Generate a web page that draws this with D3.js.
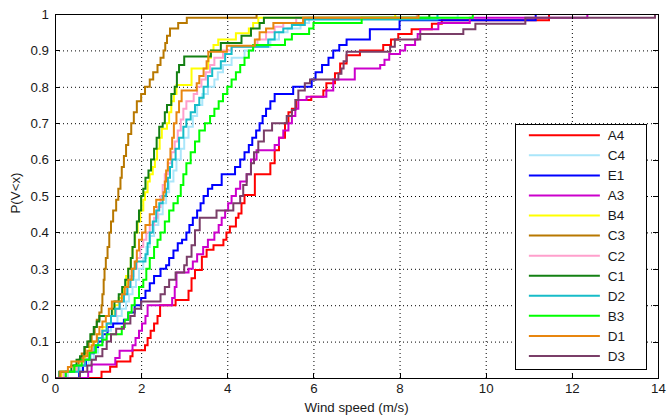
<!doctype html>
<html lang="en">
  <head>
    <meta charset="utf-8">
    <title>Wind speed CDF</title>
    <script src="https://d3js.org/d3.v7.min.js"></script>
    <style>
      body { margin: 0; background: #fff; }
      svg { display: block; font-family: "Liberation Sans", Arial, sans-serif; }
      .grid line { stroke: #000; stroke-dasharray: 1,3; stroke-width: 1; }
      .grid path { display: none; }
      .axis path, .axis line { stroke: #000; shape-rendering: crispEdges; }
      .axis text { font-size: 13.3px; fill: #1a1a1a; }
    </style>
  </head>
  <body>
    <div id="chart"></div>
    <script>
      // tick values
      const xTicks = [0, 2, 4, 6, 8, 10, 12, 14];
      const yTicks = [0, 0.1, 0.2, 0.3, 0.4, 0.5, 0.6, 0.7, 0.8, 0.9, 1];

      // legend order and colours
      const names = ["A4", "C4", "E1", "A3", "B4", "C3", "C2", "C1", "D2", "B3", "D1", "D3"];
      const colors = ["#ff0000", "#aae6fa", "#0000ff", "#cc00cc", "#ffff00", "#b87800",
                      "#ff9fcc", "#138013", "#17bcc8", "#00ff00", "#e8860f", "#7a3e68"];

      const A4 = [[1.08,0.017],[1.28,0.031],[1.43,0.045],[1.75,0.06],[1.8,0.076],[2.09,0.09],[2.15,0.11],[2.22,0.13],[2.3,0.15],[2.38,0.17],[2.44,0.2],[2.8,0.214],[3.1,0.24],[3.17,0.274],[3.25,0.297],[3.41,0.333],[3.52,0.352],[3.68,0.365],[3.91,0.38],[3.98,0.4],[4.06,0.416],[4.2,0.44],[4.26,0.452],[4.33,0.48],[4.4,0.503],[4.64,0.56],[5.0,0.59],[5.1,0.626],[5.2,0.66],[5.34,0.7],[5.42,0.73],[5.5,0.74],[5.6,0.764],[5.95,0.773],[6.23,0.79],[6.3,0.81],[6.5,0.837],[6.62,0.864],[6.77,0.887],[7.08,0.9],[7.62,0.915],[7.8,0.93],[7.97,0.945],[8.28,0.958],[8.75,0.973],[8.98,0.983],[11.47,1]];
      const C4 = [[0.3,0.017],[0.6,0.034],[0.78,0.05],[0.9,0.07],[1.0,0.09],[1.1,0.11],[1.2,0.13],[1.3,0.15],[1.45,0.17],[1.55,0.19],[1.65,0.21],[1.72,0.23],[1.8,0.25],[1.88,0.27],[1.95,0.3],[2.05,0.33],[2.12,0.36],[2.2,0.39],[2.3,0.42],[2.4,0.45],[2.5,0.48],[2.58,0.51],[2.65,0.54],[2.75,0.57],[2.82,0.6],[2.92,0.63],[3.0,0.66],[3.1,0.69],[3.2,0.72],[3.3,0.75],[3.42,0.78],[3.55,0.8],[3.7,0.82],[3.78,0.84],[3.9,0.86],[4.1,0.88],[4.4,0.9],[4.6,0.91],[5.0,0.93],[5.2,0.95],[5.4,0.96],[5.7,0.975],[5.9,0.99],[9.35,1]];
      const E1 = [[0.56,0.017],[0.65,0.034],[0.72,0.05],[0.8,0.068],[0.9,0.085],[1.0,0.1],[1.1,0.12],[1.22,0.14],[1.35,0.15],[1.6,0.16],[1.7,0.18],[1.85,0.2],[2.0,0.22],[2.1,0.24],[2.2,0.26],[2.3,0.28],[2.45,0.3],[2.58,0.31],[2.65,0.33],[2.75,0.35],[2.85,0.37],[2.95,0.38],[3.05,0.4],[3.12,0.42],[3.2,0.44],[3.3,0.46],[3.38,0.48],[3.45,0.5],[3.55,0.52],[3.65,0.53],[3.87,0.56],[4.18,0.58],[4.3,0.6],[4.4,0.62],[4.5,0.64],[4.58,0.66],[4.67,0.68],[4.75,0.7],[4.82,0.72],[4.9,0.74],[5.0,0.76],[5.1,0.78],[5.53,0.8],[5.96,0.82],[6.05,0.84],[6.2,0.86],[6.35,0.88],[6.46,0.9],[6.6,0.915],[6.77,0.93],[7.31,0.958],[8.0,0.983],[11.16,1]];
      const A3 = [[0.77,0.017],[0.85,0.037],[1.4,0.055],[1.5,0.075],[1.8,0.09],[1.87,0.11],[1.95,0.13],[2.02,0.15],[2.1,0.17],[2.15,0.2],[2.72,0.22],[2.78,0.25],[2.82,0.29],[3.1,0.3],[3.2,0.32],[3.3,0.34],[3.44,0.36],[3.55,0.38],[3.7,0.4],[3.8,0.42],[3.87,0.44],[3.95,0.46],[4.02,0.48],[4.1,0.5],[4.2,0.52],[4.3,0.54],[4.45,0.56],[4.55,0.6],[4.68,0.626],[5.1,0.64],[5.2,0.66],[5.3,0.68],[5.42,0.7],[5.5,0.72],[5.58,0.74],[5.65,0.764],[5.84,0.773],[6.3,0.79],[6.46,0.82],[6.96,0.85],[7.55,0.86],[7.65,0.874],[7.76,0.89],[8.01,0.9],[8.13,0.915],[8.36,0.93],[8.42,0.945],[8.48,0.958],[8.9,0.975],[9.63,0.99],[12.36,1]];
      const B4 = [[0.15,0.017],[0.5,0.034],[0.62,0.05],[0.7,0.068],[0.8,0.085],[0.88,0.1],[0.98,0.12],[1.1,0.14],[1.2,0.15],[1.3,0.17],[1.38,0.2],[1.48,0.22],[1.58,0.25],[1.65,0.28],[1.7,0.3],[1.76,0.33],[1.8,0.36],[1.86,0.4],[1.92,0.43],[1.98,0.46],[2.05,0.49],[2.09,0.51],[2.15,0.54],[2.2,0.56],[2.27,0.58],[2.32,0.6],[2.37,0.63],[2.43,0.66],[2.48,0.685],[2.6,0.7],[2.65,0.73],[2.7,0.76],[2.76,0.78],[2.82,0.805],[3.17,0.85],[3.56,0.88],[3.62,0.9],[3.68,0.915],[3.79,0.93],[4.2,0.947],[4.5,0.96],[4.6,0.975],[4.72,0.99],[7.9,1]];
      const C3 = [[0.12,0.017],[0.45,0.034],[0.55,0.05],[0.62,0.067],[0.7,0.085],[0.78,0.1],[0.85,0.12],[0.92,0.14],[0.97,0.16],[1.03,0.18],[1.08,0.2],[1.1,0.23],[1.13,0.27],[1.15,0.3],[1.18,0.33],[1.22,0.36],[1.26,0.4],[1.3,0.43],[1.35,0.46],[1.42,0.49],[1.47,0.52],[1.52,0.55],[1.55,0.58],[1.6,0.61],[1.65,0.64],[1.7,0.67],[1.77,0.7],[1.83,0.73],[1.9,0.76],[2.0,0.78],[2.09,0.8],[2.2,0.82],[2.28,0.84],[2.38,0.86],[2.45,0.88],[2.52,0.9],[2.56,0.92],[2.6,0.94],[2.67,0.96],[2.86,0.975],[3.06,0.99],[4.68,1]];
      const C2 = [[0.2,0.017],[0.5,0.034],[0.68,0.05],[0.8,0.07],[0.9,0.09],[1.0,0.11],[1.1,0.13],[1.2,0.15],[1.3,0.17],[1.42,0.19],[1.5,0.21],[1.6,0.23],[1.68,0.25],[1.75,0.28],[1.82,0.3],[1.9,0.33],[1.98,0.36],[2.05,0.38],[2.12,0.4],[2.2,0.42],[2.3,0.44],[2.38,0.47],[2.45,0.5],[2.5,0.53],[2.55,0.56],[2.62,0.59],[2.7,0.62],[2.78,0.65],[2.85,0.68],[2.92,0.71],[2.98,0.74],[3.05,0.76],[3.22,0.78],[3.3,0.8],[3.4,0.82],[3.5,0.84],[3.6,0.86],[3.7,0.88],[3.9,0.9],[4.1,0.91],[4.7,0.93],[4.9,0.95],[5.1,0.965],[5.3,0.975],[5.6,0.99],[8.4,1]];
      const C1 = [[0.1,0.017],[0.38,0.034],[0.5,0.05],[0.58,0.06],[0.68,0.085],[0.75,0.1],[0.82,0.12],[0.9,0.14],[0.97,0.155],[1.03,0.17],[1.32,0.19],[1.38,0.21],[1.48,0.23],[1.56,0.25],[1.63,0.27],[1.7,0.3],[1.76,0.33],[1.8,0.36],[1.85,0.4],[1.9,0.43],[1.95,0.46],[2.0,0.5],[2.05,0.52],[2.1,0.55],[2.17,0.57],[2.23,0.6],[2.3,0.63],[2.36,0.66],[2.42,0.69],[2.5,0.7],[2.55,0.73],[2.6,0.75],[2.7,0.78],[2.78,0.8],[2.83,0.84],[2.88,0.86],[3.0,0.883],[3.62,0.9],[3.85,0.92],[4.33,0.94],[4.55,0.96],[4.75,0.975],[4.85,0.99],[8.69,1]];
      const D2 = [[0.25,0.017],[0.55,0.034],[0.7,0.05],[0.82,0.07],[0.92,0.09],[1.0,0.11],[1.1,0.13],[1.2,0.15],[1.3,0.17],[1.4,0.19],[1.5,0.21],[1.6,0.23],[1.68,0.25],[1.75,0.27],[1.82,0.3],[1.88,0.32],[2.1,0.34],[2.15,0.37],[2.2,0.4],[2.27,0.43],[2.35,0.46],[2.42,0.48],[2.5,0.5],[2.58,0.52],[2.62,0.55],[2.67,0.58],[2.72,0.6],[2.8,0.63],[2.88,0.66],[2.98,0.69],[3.05,0.71],[3.15,0.73],[3.25,0.75],[3.35,0.77],[3.45,0.8],[3.55,0.83],[3.65,0.85],[3.85,0.87],[3.95,0.89],[4.1,0.91],[4.95,0.93],[5.1,0.95],[5.3,0.96],[5.5,0.97],[5.8,0.985],[8.88,1]];
      const B3 = [[0.25,0.017],[0.45,0.034],[0.62,0.05],[0.8,0.07],[0.95,0.09],[1.1,0.105],[1.2,0.12],[1.55,0.14],[1.62,0.16],[1.7,0.18],[1.78,0.2],[1.85,0.22],[1.95,0.25],[2.05,0.27],[2.12,0.3],[2.2,0.33],[2.3,0.36],[2.38,0.38],[2.45,0.4],[2.55,0.43],[2.65,0.46],[2.75,0.48],[2.85,0.5],[2.92,0.53],[2.98,0.56],[3.05,0.59],[3.15,0.62],[3.25,0.65],[3.35,0.68],[3.48,0.7],[3.6,0.72],[3.7,0.74],[3.8,0.76],[3.9,0.78],[4.0,0.8],[4.1,0.82],[4.2,0.84],[4.3,0.86],[4.4,0.88],[4.5,0.9],[4.6,0.915],[5.34,0.93],[5.5,0.945],[5.9,0.96],[6.0,0.975],[7.12,0.99],[9.7,1]];
      const D1 = [[0.12,0.017],[0.3,0.03],[0.38,0.045],[0.66,0.06],[0.75,0.075],[0.85,0.09],[0.9,0.1],[0.97,0.12],[1.03,0.14],[1.1,0.155],[1.18,0.17],[1.25,0.19],[1.32,0.21],[1.55,0.23],[1.62,0.25],[1.7,0.27],[1.78,0.3],[1.85,0.32],[1.9,0.35],[1.95,0.38],[2.02,0.4],[2.1,0.42],[2.2,0.45],[2.3,0.47],[2.35,0.49],[2.52,0.51],[2.55,0.54],[2.58,0.57],[2.62,0.6],[2.68,0.63],[2.72,0.66],[2.76,0.7],[2.82,0.73],[2.88,0.76],[2.94,0.79],[3.29,0.81],[3.35,0.83],[3.45,0.85],[3.52,0.87],[3.56,0.896],[3.99,0.913],[4.64,0.93],[4.75,0.95],[4.9,0.96],[5.07,0.975],[5.76,0.99],[8.44,1]];
      const D3 = [[0.58,0.017],[0.75,0.034],[0.85,0.05],[0.95,0.06],[1.1,0.08],[1.2,0.1],[1.3,0.12],[1.42,0.135],[1.6,0.15],[1.75,0.17],[1.85,0.19],[2.0,0.21],[2.45,0.23],[2.55,0.25],[2.65,0.27],[2.8,0.29],[3.0,0.31],[3.06,0.333],[3.17,0.365],[3.25,0.406],[3.36,0.44],[3.75,0.46],[4.14,0.48],[4.3,0.5],[4.37,0.53],[4.45,0.56],[4.55,0.59],[4.62,0.62],[4.72,0.65],[4.85,0.68],[5.04,0.7],[5.38,0.72],[5.5,0.736],[5.58,0.764],[5.65,0.79],[5.8,0.81],[5.92,0.82],[6.58,0.836],[6.65,0.85],[6.7,0.87],[6.77,0.896],[7.78,0.91],[7.89,0.93],[8.48,0.945],[9.48,0.958],[9.76,0.973],[10.92,0.99],[13.93,1]];

      const series = [A4, C4, E1, A3, B4, C3, C2, C1, D2, B3, D1, D3];

      // plot box inside the 670x417 window
      const margin = {top: 14, right: 12, bottom: 39, left: 55},
          width = 670 - margin.left - margin.right,
          height = 417 - margin.top - margin.bottom;

      const svg = d3.select("#chart")
        .append("svg")
          .attr("width", 670)
          .attr("height", 417)
        .append("g")
          .attr("transform", `translate(${margin.left},${margin.top})`);

      const x = d3.scaleLinear().domain([0, 14]).range([0, width]);
      const y = d3.scaleLinear().domain([0, 1]).range([height, 0]);

      // dotted grid
      svg.append("g")
        .attr("class", "grid")
        .attr("transform", `translate(0, ${height})`)
        .call(d3.axisBottom(x).tickValues(xTicks.slice(1, -1)).tickSize(-height).tickFormat(""));
      svg.append("g")
        .attr("class", "grid")
        .call(d3.axisLeft(y).tickValues(yTicks.slice(1, -1)).tickSize(-width).tickFormat(""));

      svg.append("clipPath")
          .attr("id", "plot-clip")
        .append("rect")
          .attr("width", width)
          .attr("height", height);

      const line = d3.line()
        .x(d => x(d[0]))
        .y(d => y(d[1]))
        .curve(d3.curveStepAfter);

      svg.append("g")
        .attr("clip-path", "url(#plot-clip)")
        .selectAll("path")
        .data(series)
        .join("path")
          .attr("fill", "none")
          .attr("stroke", (d, i) => colors[i])
          .attr("stroke-width", 2)
          .attr("d", d => line([[0, 0], ...d, [14, 1]]));

      // axes with inward ticks on all four sides
      svg.append("g")
        .attr("class", "axis")
        .attr("transform", `translate(0, ${height})`)
        .call(d3.axisBottom(x).tickValues(xTicks).tickSize(-5).tickPadding(6).tickFormat(d3.format("d")));
      svg.append("g")
        .attr("class", "axis")
        .call(d3.axisLeft(y).tickValues(yTicks).tickSize(-5).tickPadding(6).tickFormat(d => d === 0 || d === 1 ? d : d3.format(".1f")(d)));
      svg.append("g")
        .attr("class", "axis")
        .call(d3.axisTop(x).tickValues(xTicks).tickSize(-5).tickFormat(""));
      svg.append("g")
        .attr("class", "axis")
        .attr("transform", `translate(${width}, 0)`)
        .call(d3.axisRight(y).tickValues(yTicks).tickSize(-5).tickFormat(""));

      // axis labels
      svg.append("text")
        .attr("x", width / 2)
        .attr("y", height + 34)
        .attr("text-anchor", "middle")
        .attr("font-size", "13.3px")
        .attr("fill", "#1a1a1a")
        .text("Wind speed (m/s)");
      svg.append("text")
        .attr("transform", `translate(-35, ${height / 2 - 3}) rotate(-90)`)
        .attr("text-anchor", "middle")
        .attr("font-size", "13.3px")
        .attr("fill", "#1a1a1a")
        .text("P(V<x)");

      // legend
      const legend = svg.append("g")
        .attr("transform", `translate(${x(10.7)}, ${y(0.697)})`);
      legend.append("rect")
        .attr("width", 131)
        .attr("height", 245)
        .attr("fill", "#fff")
        .attr("stroke", "#000")
        .attr("shape-rendering", "crispEdges");
      const rows = legend.selectAll("g.row")
        .data(names)
        .join("g")
          .attr("class", "row")
          .attr("transform", (d, i) => `translate(0, ${11 + i * 20.06})`);
      rows.append("line")
        .attr("x1", 13)
        .attr("x2", 84)
        .attr("stroke", (d, i) => colors[i])
        .attr("stroke-width", 2);
      rows.append("text")
        .attr("x", 92)
        .attr("dy", "0.36em")
        .attr("font-size", "13.5px")
        .attr("fill", "#1a1a1a")
        .text(d => d);
    </script>
  </body>
</html>
